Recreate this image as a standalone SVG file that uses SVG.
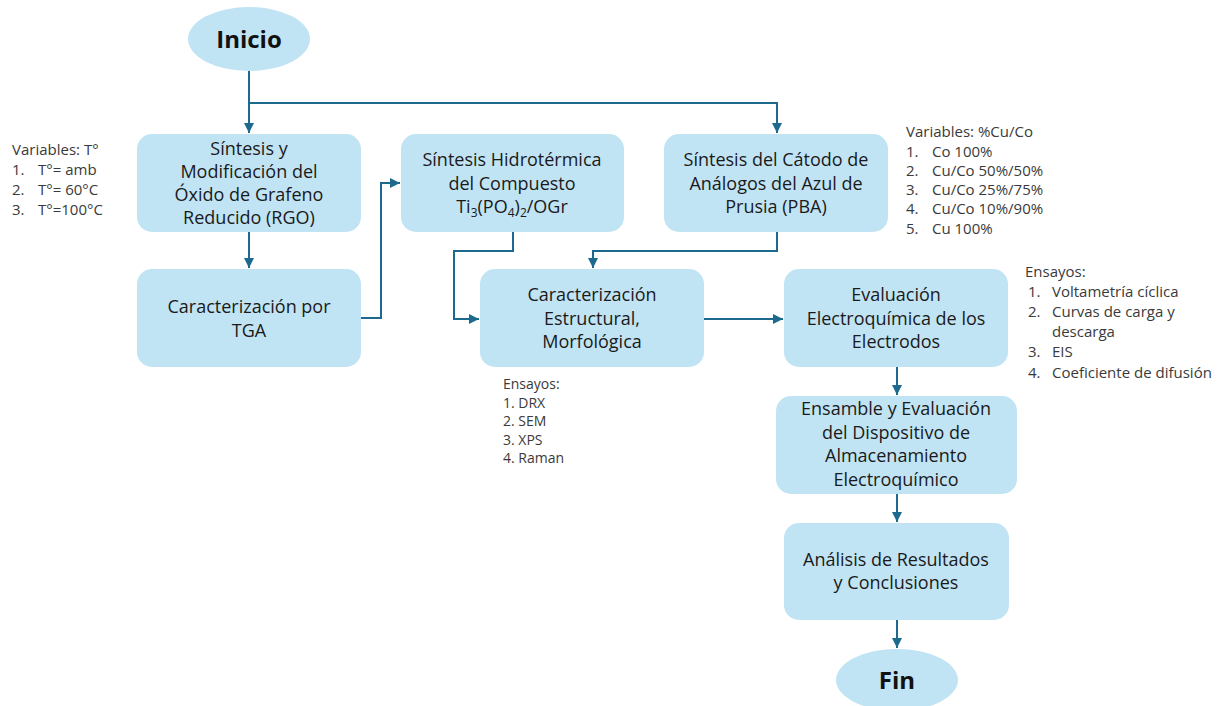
<svg xmlns="http://www.w3.org/2000/svg" width="1226" height="706" viewBox="0 0 1226 706">
<style>
.box{fill:#C1E4F5;}
.t{font-family:"Open Sans","Liberation Sans",sans-serif;font-size:18px;fill:#1a1a1a;text-anchor:middle;}
.b{font-family:"Open Sans","Liberation Sans",sans-serif;font-size:24px;font-weight:bold;fill:#111;text-anchor:middle;}
.a{font-family:"Open Sans","Liberation Sans",sans-serif;font-size:15px;fill:#3a3a3a;}
.s{font-family:"Open Sans","Liberation Sans",sans-serif;font-size:14px;fill:#3a3a3a;}
.c{fill:none;stroke:#1C6A8E;stroke-width:2;}
</style>
<defs>
<marker id="ar" viewBox="0 0 10 10" refX="10" refY="5" markerWidth="5" markerHeight="5" orient="auto" markerUnits="strokeWidth">
<path d="M0,0 L10,5 L0,10 z" fill="#1C6A8E"/>
</marker>
</defs>
<rect width="1226" height="706" fill="#ffffff"/>

<g id="connectors">
<path class="c" d="M249,71 V133" marker-end="url(#ar)"/>
<path class="c" d="M249,103 H777 V133" marker-end="url(#ar)"/>
<path class="c" d="M249,232 V268" marker-end="url(#ar)"/>
<path class="c" d="M361,318 H381 V183 H400" marker-end="url(#ar)"/>
<path class="c" d="M513,232 V251 H454 V319 H479" marker-end="url(#ar)"/>
<path class="c" d="M777,232 V251 H593 V268" marker-end="url(#ar)"/>
<path class="c" d="M704,319 H783" marker-end="url(#ar)"/>
<path class="c" d="M897,367 V395" marker-end="url(#ar)"/>
<path class="c" d="M897,494 V522" marker-end="url(#ar)"/>
<path class="c" d="M897,620 V648" marker-end="url(#ar)"/>
</g>

<g id="inicio">
<ellipse class="box" cx="249" cy="39" rx="61" ry="32"/>
<text class="b" x="249" y="48">Inicio</text>
</g>

<g id="sintesis-rgo">
<rect class="box" x="137" y="134" width="224" height="98" rx="15"/>
<text class="t" x="249" y="155">Síntesis y</text>
<text class="t" x="249" y="178">Modificación del</text>
<text class="t" x="249" y="201">Óxido de Grafeno</text>
<text class="t" x="249" y="224">Reducido (RGO)</text>
</g>

<g id="tga">
<rect class="box" x="137" y="269" width="224" height="98" rx="15"/>
<text class="t" x="249" y="313">Caracterización por</text>
<text class="t" x="249" y="337">TGA</text>
</g>

<g id="hidrotermica">
<rect class="box" x="401" y="134" width="223" height="98" rx="15"/>
<text class="t" x="512" y="166">Síntesis Hidrotérmica</text>
<text class="t" x="512" y="190">del Compuesto</text>
<text class="t" x="512" y="213">Ti<tspan font-size="12" dy="4">3</tspan><tspan dy="-4">(PO</tspan><tspan font-size="12" dy="4">4</tspan><tspan dy="-4">)</tspan><tspan font-size="12" dy="4">2</tspan><tspan dy="-4">/OGr</tspan></text>
</g>

<g id="catodo">
<rect class="box" x="664" y="134" width="224" height="98" rx="15"/>
<text class="t" x="776" y="166">Síntesis del Cátodo de</text>
<text class="t" x="776" y="190">Análogos del Azul de</text>
<text class="t" x="776" y="213">Prusia (PBA)</text>
</g>

<g id="caracterizacion">
<rect class="box" x="480" y="269" width="224" height="98" rx="15"/>
<text class="t" x="592" y="301">Caracterización</text>
<text class="t" x="592" y="325">Estructural,</text>
<text class="t" x="592" y="348">Morfológica</text>
</g>

<g id="evaluacion">
<rect class="box" x="784" y="269" width="224" height="98" rx="15"/>
<text class="t" x="896" y="301">Evaluación</text>
<text class="t" x="896" y="325">Electroquímica de los</text>
<text class="t" x="896" y="348">Electrodos</text>
</g>

<g id="ensamble">
<rect class="box" x="776" y="396" width="241" height="98" rx="15"/>
<text class="t" x="896" y="415">Ensamble y Evaluación</text>
<text class="t" x="896" y="439">del Dispositivo de</text>
<text class="t" x="896" y="462">Almacenamiento</text>
<text class="t" x="896" y="486">Electroquímico</text>
</g>

<g id="analisis">
<rect class="box" x="784" y="523" width="225" height="97" rx="15"/>
<text class="t" x="896" y="566">Análisis de Resultados</text>
<text class="t" x="896" y="589">y Conclusiones</text>
</g>

<g id="fin">
<ellipse class="box" cx="897" cy="680" rx="61" ry="31"/>
<text class="b" x="897" y="689">Fin</text>
</g>

<g id="notes">
<text class="a" x="12" y="155">Variables: T°</text>
<text class="a" x="12" y="175">1.</text><text class="a" x="38" y="175">T°= amb</text>
<text class="a" x="12" y="195">2.</text><text class="a" x="38" y="195">T°= 60°C</text>
<text class="a" x="12" y="215">3.</text><text class="a" x="38" y="215">T°=100°C</text>

<text class="a" x="906" y="137">Variables: %Cu/Co</text>
<text class="a" x="906" y="157">1.</text><text class="a" x="932" y="157">Co 100%</text>
<text class="a" x="906" y="176">2.</text><text class="a" x="932" y="176">Cu/Co 50%/50%</text>
<text class="a" x="906" y="195">3.</text><text class="a" x="932" y="195">Cu/Co 25%/75%</text>
<text class="a" x="906" y="214">4.</text><text class="a" x="932" y="214">Cu/Co 10%/90%</text>
<text class="a" x="906" y="234">5.</text><text class="a" x="932" y="234">Cu 100%</text>

<text class="a" x="1025" y="277">Ensayos:</text>
<text class="a" x="1028" y="297">1.</text><text class="a" x="1052" y="297">Voltametría cíclica</text>
<text class="a" x="1028" y="317">2.</text><text class="a" x="1052" y="317">Curvas de carga y</text>
<text class="a" x="1052" y="337">descarga</text>
<text class="a" x="1028" y="357">3.</text><text class="a" x="1052" y="357">EIS</text>
<text class="a" x="1028" y="378">4.</text><text class="a" x="1052" y="378">Coeficiente de difusión</text>

<text class="s" x="503" y="389">Ensayos:</text>
<text class="s" x="503" y="408">1. DRX</text>
<text class="s" x="503" y="426">2. SEM</text>
<text class="s" x="503" y="445">3. XPS</text>
<text class="s" x="503" y="463">4. Raman</text>
</g>
</svg>
